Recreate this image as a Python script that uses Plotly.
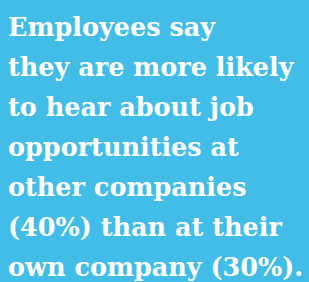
import plotly.graph_objects as go

lines = [
    "Employees say",
    "they are more likely",
    "to hear about job",
    "opportunities at",
    "other companies",
    "(40%) than at their",
    "own company (30%).",
]

W, H = 309, 282
top = 10
step = 40
fig = go.Figure()
for i, t in enumerate(lines):
    fig.add_annotation(
        text=t, xref="paper", yref="paper",
        x=6 / W, y=1 - (top + i * step) / H,
        xanchor="left", yanchor="top", showarrow=False,
        font=dict(family="DejaVu Serif", size=25.5, color="white", weight="bold"),
    )
fig.update_layout(
    width=W, height=H, margin=dict(l=0, r=0, t=0, b=0),
    paper_bgcolor="#41BDE8", plot_bgcolor="#41BDE8",
    xaxis=dict(visible=False), yaxis=dict(visible=False),
    showlegend=False,
)
fig.write_html(
    "out.html",
    config={"displayModeBar": False},
    post_script="document.body.style.margin='0';document.body.style.background='#41BDE8';",
)
